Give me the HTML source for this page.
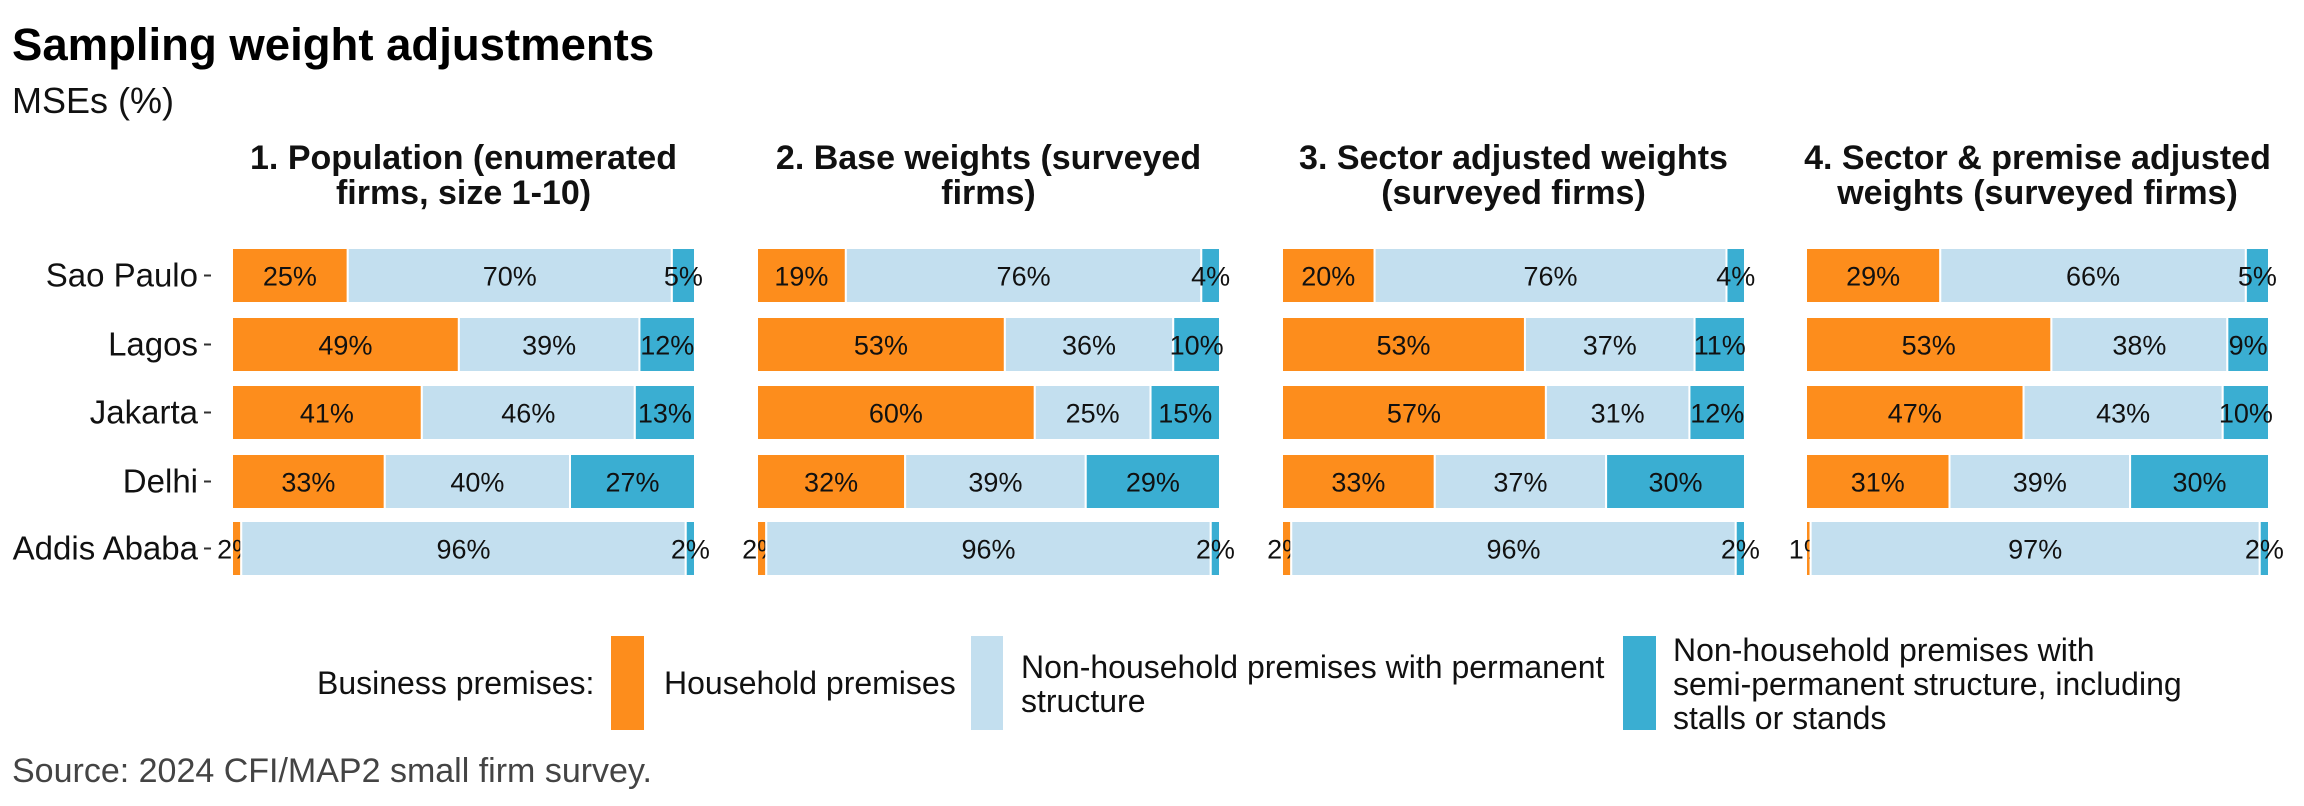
<!DOCTYPE html>
<html><head><meta charset="utf-8"><style>
html,body{margin:0;padding:0;background:#fff;}
svg{display:block;font-family:"Liberation Sans",Arial,sans-serif;}
</style></head><body>
<svg id="c" width="2304" height="806" xmlns="http://www.w3.org/2000/svg">
<text x="12" y="60" font-size="45.5" font-weight="bold" fill="#000">Sampling weight adjustments</text>
<text x="12" y="113" font-size="36" fill="#111">MSEs (%)</text>
<g id="plot"></g>
<text x="317" y="694" font-size="32" fill="#111">Business premises:</text>
<rect x="611" y="636" width="33" height="94" fill="#FD8D1C"/>
<text x="664" y="694" font-size="32" fill="#111">Household premises</text>
<rect x="971" y="636" width="32" height="94" fill="#C3DFEF"/>
<text x="1021" y="678" font-size="32" fill="#111">Non-household premises with permanent</text>
<text x="1021" y="712" font-size="32" fill="#111">structure</text>
<rect x="1623" y="636" width="33" height="94" fill="#3AAED2"/>
<text x="1673" y="661" font-size="32" fill="#111">Non-household premises with</text>
<text x="1673" y="695" font-size="32" fill="#111">semi-permanent structure, including</text>
<text x="1673" y="729" font-size="32" fill="#111">stalls or stands</text>
<text x="12" y="782" font-size="34" fill="#444">Source: 2024 CFI/MAP2 small firm survey.</text>
</svg>
<script>
var cities=["Sao Paulo","Lagos","Jakarta","Delhi","Addis Ababa"];
var titles=[["1. Population (enumerated","firms, size 1-10)"],["2. Base weights (surveyed","firms)"],["3. Sector adjusted weights","(surveyed firms)"],["4. Sector &amp; premise adjusted","weights (surveyed firms)"]];
var data=[
[[25,70,5],[49,39,12],[41,46,13],[33,40,27],[2,96,2]],
[[19,76,4],[53,36,10],[60,25,15],[32,39,29],[2,96,2]],
[[20,76,4],[53,37,11],[57,31,12],[33,37,30],[2,96,2]],
[[29,66,5],[53,38,9],[47,43,10],[31,39,30],[1,97,2]]];
var cols=["#FD8D1C","#C3DFEF","#3AAED2"];
var px=[232,757,1282,1806],W=463,rowY=[248,317,385,454,521],H=55;
var s="";
cities.forEach(function(c,i){var cy=rowY[i]+H/2;
 s+='<text x="198" y="'+(cy+11)+'" font-size="33" text-anchor="end" fill="#111">'+c+'</text>';
 s+='<line x1="204" x2="211" y1="'+cy+'" y2="'+cy+'" stroke="#333" stroke-width="2"/>';});
for(var p=0;p<4;p++){var cx=px[p]+W/2;
 s+='<text x="'+cx+'" y="169" font-size="34" font-weight="bold" text-anchor="middle" fill="#111">'+titles[p][0]+'</text>';
 s+='<text x="'+cx+'" y="204" font-size="34" font-weight="bold" text-anchor="middle" fill="#111">'+titles[p][1]+'</text>';
 for(var r=0;r<5;r++){var d=data[p][r],tot=d[0]+d[1]+d[2],x=px[p];
  for(var k=0;k<3;k++){var w=W*d[k]/tot;
   s+='<rect x="'+x+'" y="'+rowY[r]+'" width="'+w+'" height="'+H+'" fill="'+cols[k]+'" stroke="#fff" stroke-width="2"/>';
   s+='<text x="'+(x+w/2)+'" y="'+(rowY[r]+H/2+10)+'" font-size="27" text-anchor="middle" fill="#111">'+d[k]+'%</text>';
   x+=w;}
 }}
document.getElementById("plot").innerHTML=s;
</script>
</body></html>
